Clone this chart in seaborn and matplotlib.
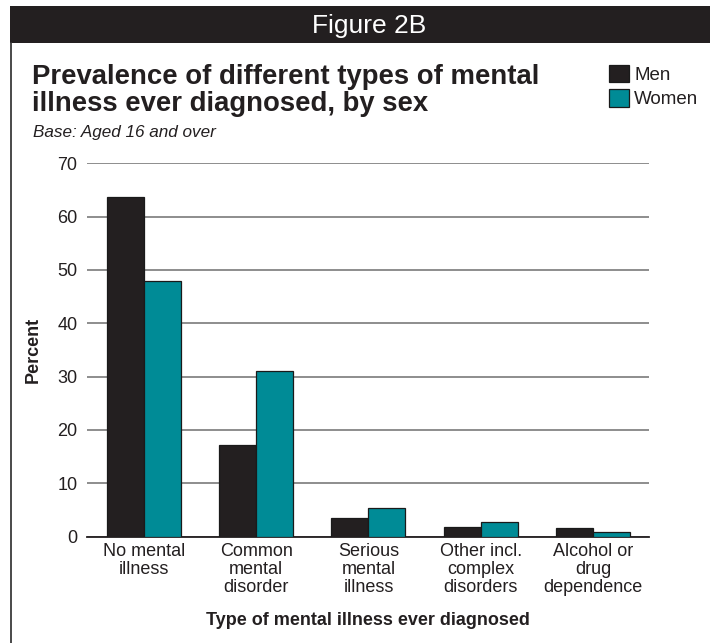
import matplotlib
matplotlib.use("Agg")
import matplotlib.pyplot as plt
from matplotlib.patches import Rectangle
from matplotlib.lines import Line2D
import seaborn as sns
import pandas as pd

# Data: percent of adults aged 16+ ever diagnosed, by sex
categories = [
    "No mental\nillness",
    "Common\nmental\ndisorder",
    "Serious\nmental\nillness",
    "Other incl.\ncomplex\ndisorders",
    "Alcohol or\ndrug\ndependence",
]
men = [63.6, 17.2, 3.4, 1.8, 1.6]
women = [47.9, 31.0, 5.3, 2.7, 0.8]
series = ["Men", "Women"]
y_ticks = [0, 10, 20, 30, 40, 50, 60, 70]

colors = {"Men": "#231f20", "Women": "#008b96"}

df = pd.DataFrame({
    "category": categories * 2,
    "sex": [series[0]] * len(categories) + [series[1]] * len(categories),
    "value": men + women,
})

sns.set_theme(style="white")
plt.rcParams["font.family"] = ["Liberation Sans", "DejaVu Sans"]

W, H = 710, 643
fig = plt.figure(figsize=(W / 100, H / 100), dpi=100)
fig.patch.set_facecolor("white")


def fx(px):
    return px / W


def fy(py):
    return 1 - py / H


# Header band and left frame line
fig.patches.append(Rectangle((fx(10), fy(43)), 1 - fx(10), fy(6) - fy(43),
                             transform=fig.transFigure, facecolor="#231f20",
                             edgecolor="none", zorder=0))
fig.lines.append(Line2D([fx(10.5), fx(10.5)], [fy(43), 0], transform=fig.transFigure,
                        color="#3a3a3a", lw=1.3))
fig.text(fx(369), fy(26), "Figure 2B", color="white", fontsize=19,
         ha="center", va="center")

# Titles
fig.text(fx(32), fy(63.5), "Prevalence of different types of mental\nillness ever diagnosed, by sex",
         fontsize=19.8, fontweight="heavy", color="#231f20", ha="left", va="top",
         linespacing=1.06)
fig.text(fx(33), fy(133), "Base: Aged 16 and over", fontsize=12.3, style="italic",
         color="#231f20", ha="left", va="center")

ax = fig.add_axes([fx(87), fy(536.5), fx(649) - fx(87), fy(163.3) - fy(536.5)])
sns.barplot(data=df, x="category", y="value", hue="sex", palette=colors,
            width=0.66, edgecolor="#1a1a1a", linewidth=0.9, saturation=1,
            ax=ax, zorder=3)

ax.set_xlim(-0.508, 4.5)
ax.set_ylim(0, 70)
ax.set_yticks(y_ticks)
ax.yaxis.grid(True, color="#858585", lw=1.3)
ax.xaxis.grid(False)
ax.set_axisbelow(True)
for s in ["top", "right", "left"]:
    ax.spines[s].set_visible(False)
ax.spines["bottom"].set_color("#231f20")
ax.spines["bottom"].set_linewidth(1.3)
ax.tick_params(axis="y", length=0, pad=7, labelsize=13, labelcolor="#231f20")
ax.tick_params(axis="x", length=0, pad=5, labelsize=13, labelcolor="#231f20")
for lbl in ax.get_xticklabels():
    lbl.set_linespacing(1.05)

ax.set_xlabel("Type of mental illness ever diagnosed", fontsize=13, fontweight="bold",
              color="#231f20", labelpad=12)
ax.set_ylabel("Percent", fontsize=13, fontweight="bold", color="#231f20", labelpad=11)

handles, labels = ax.get_legend_handles_labels()
ax.get_legend().remove()
fig.legend(handles, labels, loc="upper left", bbox_to_anchor=(fx(609), fy(64.5)),
           frameon=False, fontsize=13.5, handlelength=1.05, handleheight=1.05,
           handletextpad=0.3, labelspacing=0.3, borderpad=0, borderaxespad=0,
           labelcolor="#231f20")

fig.savefig("out.png", dpi=100, facecolor="white")
